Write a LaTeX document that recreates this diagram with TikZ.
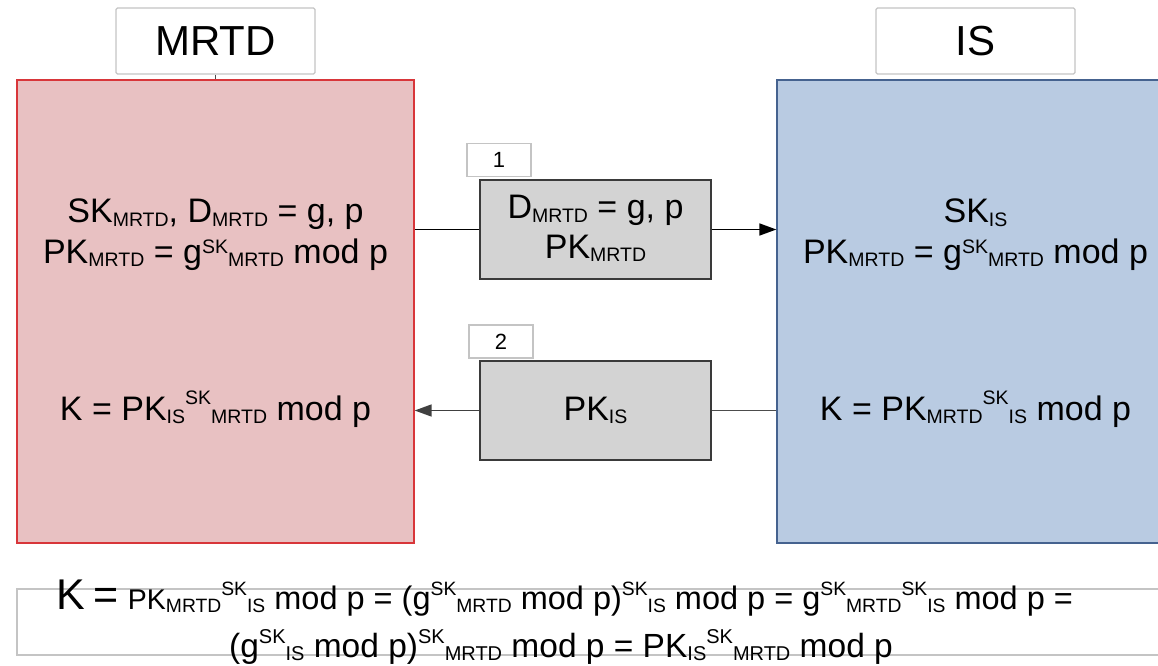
\documentclass[tikz,border=0pt]{standalone}
\usepackage{fontspec}
\setmainfont{Liberation Sans}
\usetikzlibrary{arrows.meta}

% index text for the box formulas
\newcommand\idxfont{\fontsize{19.5bp}{19.5bp}\selectfont}
\newcommand\lowidx[1]{\raisebox{-3.5bp}{\idxfont #1}}
\newcommand\gidx[1]{\raisebox{10bp}{\idxfont #1}}
\newcommand\kidx[1]{\raisebox{16bp}{\idxfont #1}}
% index text for the long formula at the foot
\newcommand\footidxfont{\fontsize{19.3bp}{19.3bp}\selectfont}
\newcommand\flow[1]{\raisebox{-3.5bp}{\footidxfont #1}}
\newcommand\fhigh[1]{\raisebox{14bp}{\footidxfont #1}}
\newcommand\bigK{\fontsize{43bp}{43bp}\selectfont}

\definecolor{mrtdfill}{HTML}{E8C1C2}
\definecolor{mrtdline}{HTML}{D8363A}
\definecolor{isfill}{HTML}{B9CBE2}
\definecolor{isline}{HTML}{45628F}
\definecolor{msgfill}{HTML}{D3D3D3}
\definecolor{msgline}{HTML}{3A3A3A}
\definecolor{tagline}{HTML}{C4C4C4}

\tikzset{
  party/.style={draw, line width=1.3bp, inner sep=0pt, minimum width=397bp, minimum height=463bp},
  titlebox/.style={draw=tagline, fill=white, line width=1.3bp, rounded corners=1.5bp, inner sep=0pt,
    minimum width=199bp, minimum height=66bp, font=\fontsize{42bp}{42bp}\selectfont},
  msgbox/.style={draw=msgline, fill=msgfill, line width=1.6bp, inner sep=0pt,
    minimum width=231bp, minimum height=99bp},
  tagbox/.style={draw=tagline, fill=white, line width=1.2bp, inner sep=0pt,
    minimum width=64bp, minimum height=33bp, font=\fontsize{22bp}{22bp}\selectfont},
  txt/.style={anchor=base, inner sep=0pt, font=\fontsize{34bp}{34bp}\selectfont},
  foot/.style={anchor=base, inner sep=0pt, font=\fontsize{32.5bp}{32.5bp}\selectfont},
  flow/.style={line width=1.7bp, -{Triangle[length=17bp,width=12bp]}},
  flowplain/.style={line width=1.7bp},
}

\begin{document}
\begin{tikzpicture}[x=1bp, y=-1bp]
\useasboundingbox (0,0) rectangle (1158,666);
\clip (0,0) rectangle (1158,666);

% the two parties
\node[party, draw=mrtdline, fill=mrtdfill] (mrtd) at (215.5,311.5) {};
\node[party, draw=isline, fill=isfill] (is) at (975.5,311.5) {};

% party titles
\node[titlebox] (tmrtd) at (215.5,41) {MRTD};
\node[titlebox] (tis) at (975.5,41) {IS};
\draw[line width=1.5bp, black!70] (tmrtd.south) -- (tmrtd.south |- mrtd.north);

% messages
\node[msgbox] (m1) at (595.5,229.5) {};
\node[msgbox] (m2) at (595.5,410.5) {};
\node[tagbox] (n1) at (499,160) {1};
\node[tagbox] (n2) at (501,341.5) {2};

\draw[flowplain, black] (mrtd.east |- m1) -- (m1.west);
\draw[flow, black] (m1.east) -- (is.west |- m1);
\draw[flowplain, black!70] (is.west |- m2) -- (m2.east);
\draw[flow, black!75] (m2.west) -- (mrtd.east |- m2);

\node[txt] (m1a) at (595.5,219) {D\lowidx{MRTD} = g, p};
\node[txt] (m1b) at (595.5,258) {PK\lowidx{MRTD}};
\node[txt] (m2a) at (595.5,420) {PK\lowidx{IS}};

% MRTD side
\node[txt] (ma) at (215.5,223) {SK\lowidx{MRTD}, D\lowidx{MRTD} = g, p};
\node[txt] (mb) at (215.5,263) {PK\lowidx{MRTD} = g\gidx{SK}\lowidx{MRTD} mod p};
\node[txt] (mc) at (215.5,420) {K = PK\lowidx{IS}\kidx{SK}\lowidx{MRTD} mod p};

% IS side
\node[txt] (ia) at (975.5,223) {SK\lowidx{IS}};
\node[txt] (ib) at (975.5,263) {PK\lowidx{MRTD} = g\gidx{SK}\lowidx{MRTD} mod p};
\node[txt] (ic) at (975.5,420) {K = PK\lowidx{MRTD}\kidx{SK}\lowidx{IS} mod p};

% shared key derivation
\draw[draw=tagline, line width=1.5bp] (1170,589) -- (17,589) -- (17,655) -- (1170,655);
\node[foot] (k1) at (564.5,609) {{\bigK K} {\bigK =} {\fontsize{28.5bp}{28.5bp}\selectfont PK}\flow{MRTD}\fhigh{SK}\flow{IS} mod p = (g\fhigh{SK}\flow{MRTD} mod p)\fhigh{SK}\flow{IS} mod p = g\fhigh{SK}\flow{MRTD}\fhigh{SK}\flow{IS} mod p =};
\node[foot, font=\fontsize{33.5bp}{33.5bp}\selectfont] (k2) at (561,657) {\renewcommand\footidxfont{\fontsize{20bp}{20bp}\selectfont}(g\fhigh{SK}\flow{IS} mod p)\fhigh{SK}\flow{MRTD} mod p = PK\flow{IS}\fhigh{SK}\flow{MRTD} mod p};
\end{tikzpicture}
\end{document}
